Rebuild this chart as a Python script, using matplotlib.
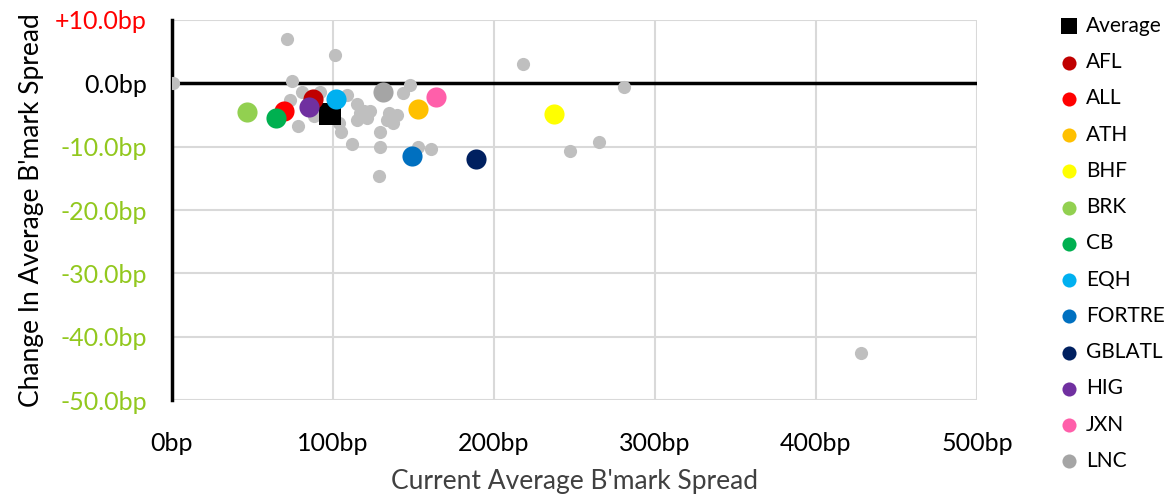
import numpy as np
import matplotlib.pyplot as plt

plt.rcParams['font.family'] = ['Lato', 'DejaVu Sans']

# peer universe (unlabelled grey dots)
other_x = [0.6, 71.4, 101, 74.5, 218, 281, 247, 265, 161, 153, 112, 129, 129, 128.6,
           78, 105, 148, 143.5, 92, 81, 73, 109, 115, 117, 123, 115, 121, 135, 140,
           133.5, 137, 88, 104, 119, 428]
other_y = [0.0, 6.95, 4.4, 0.3, 3.0, -0.6, -10.6, -9.2, -10.4, -10.0, -9.6, -10.0, -7.7, -14.7,
           -6.8, -7.7, -0.3, -1.6, -1.4, -1.4, -2.7, -1.9, -3.2, -4.7, -4.3, -5.8, -5.4, -4.7, -5.0,
           -5.8, -6.3, -5.1, -6.3, -4.3, -42.6]

avg_x, avg_y = 98, -4.9

names = ['AFL', 'ALL', 'ATH', 'BHF', 'BRK', 'CB', 'EQH', 'FORTRE', 'GBLATL', 'HIG', 'JXN', 'LNC']
spread = [87.6, 69.6, 153, 237, 46.6, 64.6, 102, 149, 189, 85, 164, 131]
change = [-2.5, -4.4, -4.1, -4.9, -4.6, -5.5, -2.5, -11.4, -12.0, -3.8, -2.2, -1.4]
colors = ['#C00000', '#FF0000', '#FFC000', '#FFFF00', '#92D050', '#00B050', '#00B0F0',
          '#0070C0', '#002060', '#7030A0', '#FF5FAA', '#A5A5A5']

yticks = [10, 0, -10, -20, -30, -40, -50]
ytick_labels = ['+10.0bp', '0.0bp', '-10.0bp', '-20.0bp', '-30.0bp', '-40.0bp', '-50.0bp']
xticks = [0, 100, 200, 300, 400, 500]
xtick_labels = ['0bp', '100bp', '200bp', '300bp', '400bp', '500bp']

fig = plt.figure(figsize=(11.7, 4.99), dpi=100)
ax = fig.add_axes([0.147, 0.198, 0.688, 0.762])

ax.scatter(other_x, other_y, s=90, color='#BFBFBF', zorder=2, linewidths=0)
ax.scatter([avg_x], [avg_y], s=260, marker='s', color='black', zorder=3, linewidths=0, label='Average')
for n, x, y, c in zip(names, spread, change, colors):
    ax.scatter([x], [y], s=210, color=c, zorder=4, linewidths=0, label=n)

ax.axhline(0, color='black', lw=2.5, zorder=1)
ax.set_xlim(0, 500)
ax.set_ylim(-50, 10)
ax.set_xticks(xticks)
ax.set_xticklabels(xtick_labels)
ax.set_yticks(yticks)
ax.set_yticklabels(ytick_labels)
ax.tick_params(length=0, labelsize=18)
ax.tick_params(axis='y', pad=18)
ax.tick_params(axis='x', pad=23)
tick_cols = ['#FF0000', 'black'] + ['#92C81E'] * 5
for lbl, c in zip(ax.get_yticklabels(), tick_cols):
    lbl.set_color(c)
ax.grid(True, color='#D9D9D9', lw=1.5, zorder=0)
ax.set_axisbelow(True)
for s in ['top', 'right', 'bottom']:
    ax.spines[s].set_visible(False)
ax.spines['left'].set_linewidth(2.5)
ax.spines['left'].set_zorder(1)

ax.set_xlabel("Current Average B'mark Spread", fontsize=19, color='#404040', labelpad=10)
ax.set_ylabel("Change In Average B'mark Spread", fontsize=19, color='black', labelpad=8)

leg = fig.legend(loc='upper left', bbox_to_anchor=(0.905, 0.968), frameon=False,
                 fontsize=15, labelspacing=0.78, handletextpad=0.3, handlelength=1.0,
                 borderaxespad=0, borderpad=0, markerscale=0.7)

fig.savefig('out.png', dpi=100)
